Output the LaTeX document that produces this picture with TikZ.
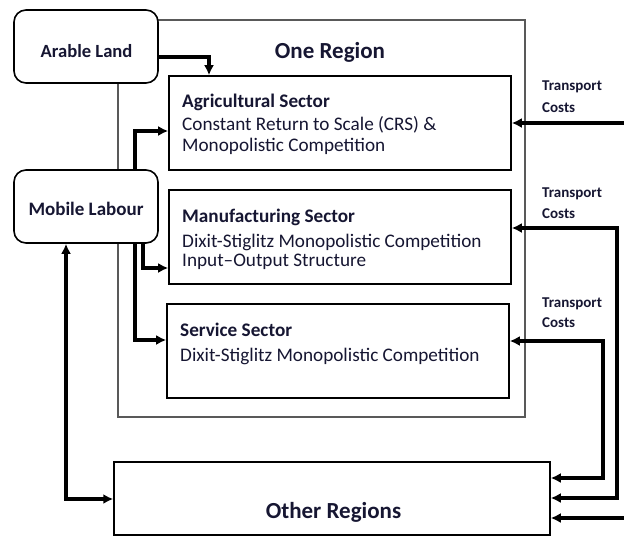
\documentclass[tikz,border=0pt]{standalone}
\usepackage{fontspec}
\setmainfont{Carlito}
\usetikzlibrary{arrows.meta}
\definecolor{ink}{RGB}{22,22,50}
\begin{document}
\begin{tikzpicture}[x=1pt,y=-1pt,
  regionbox/.style={draw=black!65,line width=1.6pt,inner sep=0pt},
  roundbox/.style={draw=black,line width=1.6pt,fill=white,rounded corners=12pt,inner sep=0pt,minimum width=144pt,minimum height=73pt},
  sectorbox/.style={draw=black,line width=1.6pt,fill=white,inner sep=0pt,minimum width=342pt,minimum height=94pt},
  txt/.style={text=ink,inner sep=0pt,font=\fontsize{19.2}{21}\selectfont},
  bigtxt/.style={text=ink,inner sep=0pt,font=\fontsize{23}{25}\selectfont\bfseries},
  smalltxt/.style={text=ink,inner sep=0pt,font=\fontsize{15}{16}\selectfont\bfseries},
  conn/.style={draw=black,line width=3.6pt,-{Latex[length=10pt,width=10pt]}},
  conn2/.style={draw=black,line width=3.6pt,{Latex[length=10pt,width=10pt]}-{Latex[length=10pt,width=10pt]}}
]
\useasboundingbox (0,0) rectangle (624,536);
% outer region
\node[regionbox,minimum width=407pt,minimum height=397pt] (region) at (321.5,218.5) {};
\node[bigtxt,anchor=base] (regiontitle) at (330,58) {One Region};
% left boxes
\node[roundbox] (arable) at (86,46.5) {};
\node[txt,anchor=base,font=\fontsize{18.6}{20}\selectfont\bfseries] (arabletxt) at (86.5,57) {Arable Land};
\node[roundbox] (mobile) at (86,206.5) {};
\node[txt,anchor=base,font=\fontsize{19}{20}\selectfont\bfseries] (mobiletxt) at (86,215) {Mobile Labour};
% sector boxes
\node[sectorbox] (agri) at (340,123) {};
\node[txt,anchor=base west] (agri1) at (182,107) {\bfseries Agricultural Sector};
\node[txt,anchor=base west] (agri2) at (182,130) {Constant Return to Scale (CRS) \&};
\node[txt,anchor=base west] (agri3) at (182,151) {Monopolistic Competition};
\node[sectorbox] (manu) at (340,237) {};
\node[txt,anchor=base west] (manu1) at (182,222) {\bfseries Manufacturing Sector};
\node[txt,anchor=base west] (manu2) at (182,247) {Dixit-Stiglitz Monopolistic Competition};
\node[txt,anchor=base west] (manu3) at (182,266) {Input--Output Structure};
\node[sectorbox] (serv) at (338,351) {};
\node[txt,anchor=base west] (serv1) at (180,336) {\bfseries Service Sector};
\node[txt,anchor=base west] (serv2) at (180,361) {Dixit-Stiglitz Monopolistic Competition};
% other regions
\node[draw=black,line width=1.5pt,inner sep=0pt,minimum width=436pt,minimum height=73pt] (other) at (332,498.5) {};
\node[bigtxt,anchor=base] (othertxt) at (333.5,518) {Other Regions};
% transport cost labels
\node[smalltxt,anchor=base west] (tc1a) at (542,90) {Transport};
\node[smalltxt,anchor=base west] (tc1b) at (542,112) {Costs};
\node[smalltxt,anchor=base west] (tc2a) at (542,197) {Transport};
\node[smalltxt,anchor=base west] (tc2b) at (542,218) {Costs};
\node[smalltxt,anchor=base west] (tc3a) at (542,307) {Transport};
\node[smalltxt,anchor=base west] (tc3b) at (542,327) {Costs};
% bend coordinates
\coordinate (p1) at (209,57);
\coordinate (p2) at (135,131);
\coordinate (p3) at (143,268);
\coordinate (p4) at (135,340);
\coordinate (p5) at (66,499);
\coordinate (r1) at (624,123);
\coordinate (r2) at (617,228);
\coordinate (r2b) at (617,498);
\coordinate (r3) at (603,341);
\coordinate (r3b) at (603,478);
\coordinate (r4) at (624,518);
% connectors
\draw[conn] (arable.east |- p1) -| (agri.north -| p1);
\draw[conn] (mobile.north -| p2) |- (agri.west |- p2);
\draw[conn] (mobile.south -| p3) |- (manu.west |- p3);
\draw[conn] (mobile.south -| p4) |- (serv.west |- p4);
\draw[conn2] (mobile.south -| p5) |- (other.west |- p5);
\draw[conn] (r1) -- (agri.east |- r1);
\draw[conn2] (manu.east |- r2) -- (r2) -- (r2b) -- (other.east |- r2b);
\draw[conn2] (serv.east |- r3) -- (r3) -- (r3b) -- (other.east |- r3b);
\draw[conn] (r4) -- (other.east |- r4);
\end{tikzpicture}
\end{document}
